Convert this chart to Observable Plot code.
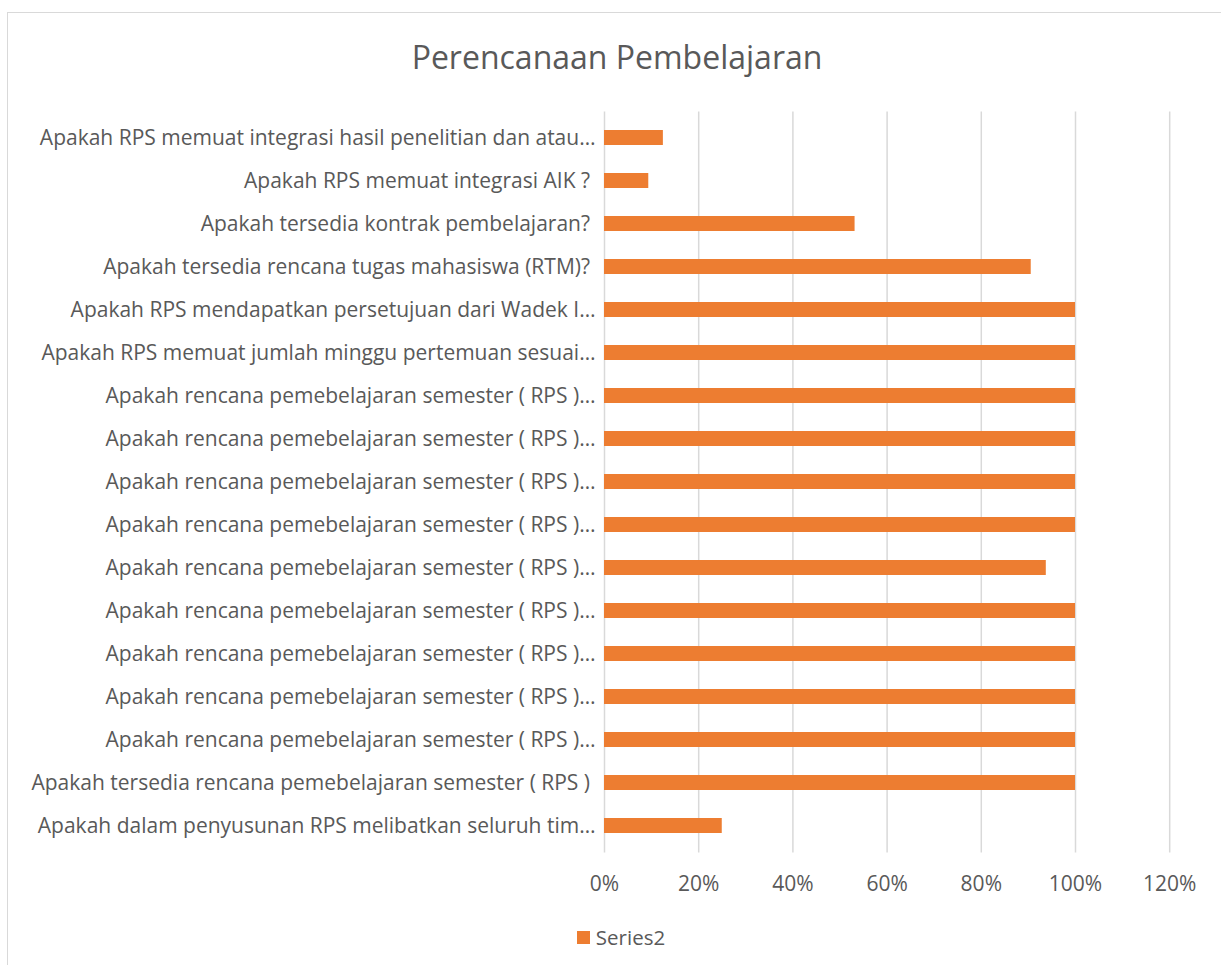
<!DOCTYPE html>
<html><head><meta charset="utf-8">
<script src="https://cdn.jsdelivr.net/npm/d3@7"></script>
<script src="https://cdn.jsdelivr.net/npm/@observablehq/plot@0.6"></script>
<style>
body{margin:0;background:#fff;}
#wrap{position:relative;width:1221px;height:965px;overflow:hidden;font-family:"Open Sans",sans-serif;color:#595959;}
#frame{position:absolute;left:7px;top:12px;width:1260px;height:1000px;border:1px solid #d9d9d9;box-sizing:border-box;}
#title{position:absolute;left:7px;width:1220px;top:35px;text-align:center;font-size:32px;line-height:44px;white-space:nowrap;}
#chart{position:absolute;left:0;top:100px;}
#chart svg text{white-space:pre;}
#legend{position:absolute;left:7px;width:1228px;top:923px;display:flex;justify-content:center;align-items:center;font-size:20.5px;line-height:28px;}
#legend .sw{width:13px;height:13px;background:#ED7D31;margin-right:6px;}
</style></head>
<body>
<div id="wrap">
  <div id="frame"></div>
  <div id="title">Perencanaan Pembelajaran</div>
  <div id="chart"></div>
  <div id="legend"><span class="sw"></span><span>Series2</span></div>
</div>
<script>
const labels = [
  "Apakah RPS memuat integrasi hasil penelitian dan atau…",
  "Apakah RPS memuat integrasi AIK ? ",
  "Apakah tersedia kontrak pembelajaran? ",
  "Apakah tersedia rencana tugas mahasiswa (RTM)? ",
  "Apakah RPS mendapatkan persetujuan dari Wadek I…",
  "Apakah RPS memuat jumlah minggu pertemuan sesuai…",
  "Apakah rencana pemebelajaran semester ( RPS )…",
  "Apakah rencana pemebelajaran semester ( RPS )…",
  "Apakah rencana pemebelajaran semester ( RPS )…",
  "Apakah rencana pemebelajaran semester ( RPS )…",
  "Apakah rencana pemebelajaran semester ( RPS )…",
  "Apakah rencana pemebelajaran semester ( RPS )…",
  "Apakah rencana pemebelajaran semester ( RPS )…",
  "Apakah rencana pemebelajaran semester ( RPS )…",
  "Apakah rencana pemebelajaran semester ( RPS )…",
  "Apakah tersedia rencana pemebelajaran semester ( RPS ) ",
  "Apakah dalam penyusunan RPS melibatkan seluruh tim…"
];
const series2 = [0.125, 0.094, 0.532, 0.906, 1, 1, 1, 1, 1, 1, 0.938, 1, 1, 1, 1, 1, 0.25];
const xTicks = [0, 0.2, 0.4, 0.6, 0.8, 1.0, 1.2];

const data = labels.map((l, i) => ({key: String(i), label: l, value: series2[i]}));
const pct = d => Math.round(d * 100) + "%";

const chart = Plot.plot({
  width: 1221,
  height: 800,
  marginLeft: 604,
  marginRight: 51.8,
  marginTop: 11.5,
  marginBottom: 47.5,
  style: {fontFamily: '"Open Sans", sans-serif', fontSize: "21px", color: "#595959", background: "transparent", overflow: "visible"},
  x: {domain: [0, 1.2]},
  y: {domain: data.map(d => d.key), paddingInner: 0.65, paddingOuter: 0.325, align: 0.5},
  marks: [
    Plot.gridX(xTicks, {stroke: "#d9d9d9", strokeOpacity: 1, strokeWidth: 1.5}),
    Plot.barX(data, {x: "value", y: "key", fill: "#ED7D31"}),
    Plot.axisX({ticks: xTicks, tickFormat: pct, tickSize: 0, tickPadding: 23, fontSize: 21, label: null}),
    Plot.axisY({tickFormat: k => labels[+k], tickSize: 0, tickPadding: 9, fontSize: 21, label: null})
  ]
});
document.getElementById("chart").appendChild(chart);
</script>
</body></html>
